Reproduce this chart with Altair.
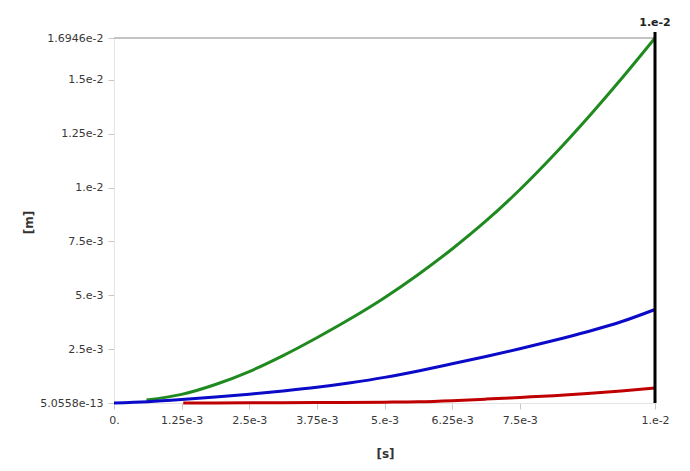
import altair as alt
import pandas as pd

# ---- data ----
t_green = [0.0006, 0.00125, 0.001875, 0.0025, 0.003125, 0.00375, 0.004375, 0.005,
           0.005625, 0.00625, 0.006875, 0.0075, 0.008125, 0.00875, 0.009375, 0.01]
v_green = [0.00014, 0.00040, 0.00086, 0.00146, 0.00220, 0.00303, 0.00392, 0.00489,
           0.00597, 0.00715, 0.00845, 0.00990, 0.01150, 0.01322, 0.01504, 0.016946]

t_blue = [0.0, 0.000625, 0.00125, 0.001875, 0.0025, 0.003125, 0.00375, 0.004375, 0.005,
          0.005625, 0.00625, 0.006875, 0.0075, 0.008125, 0.00875, 0.009375, 0.01]
v_blue = [0.0, 0.00006, 0.00016, 0.00028, 0.00041, 0.00056, 0.00073, 0.00094, 0.00119,
          0.00149, 0.00182, 0.00216, 0.00252, 0.00290, 0.00331, 0.00377, 0.00434]

t_red = [0.00128, 0.0025, 0.00375, 0.005, 0.005625, 0.00625, 0.006875, 0.0075,
         0.008125, 0.00875, 0.009375, 0.01]
v_red = [0.0, 0.00001, 0.00002, 0.00004, 0.00006, 0.00011, 0.00018, 0.00026,
         0.00034, 0.00044, 0.00056, 0.00070]

series_names = ["green", "red", "blue"]
series_colors = ["#1f8a1f", "#c00000", "#0a0ac8"]

x_tick_values = [0.0, 0.00125, 0.0025, 0.00375, 0.005, 0.00625, 0.0075, 0.01]
x_tick_labels = ["0.", "1.25e-3", "2.5e-3", "3.75e-3", "5.e-3", "6.25e-3", "7.5e-3", "1.e-2"]
y_tick_values = [5.0558e-13, 0.0025, 0.005, 0.0075, 0.01, 0.0125, 0.015, 0.016946]
y_tick_labels = ["5.0558e-13", "2.5e-3", "5.e-3", "7.5e-3", "1.e-2", "1.25e-2", "1.5e-2", "1.6946e-2"]

x_min, x_max = 0.0, 0.01
y_min, y_max = 5.0558e-13, 0.016946
marker_time = 0.01
marker_label = "1.e-2"
marker_top = 0.01723

# ---- build table ----
rows = []
for name, ts, vs in [("green", t_green, v_green), ("red", t_red, v_red), ("blue", t_blue, v_blue)]:
    for t, v in zip(ts, vs):
        rows.append({"series": name, "t": t, "v": v, "order": series_names.index(name)})
df = pd.DataFrame(rows)


def label_expr(vals, labs, tol=1e-7):
    expr = "''"
    for v, l in reversed(list(zip(vals, labs))):
        expr = f"abs(datum.value - {v!r}) < {tol} ? '{l}' : ({expr})"
    return expr


FONT = "DejaVu Sans"

x_scale = alt.Scale(domain=[x_min, x_max], nice=False, zero=False)
y_scale = alt.Scale(domain=[y_min, y_max], nice=False, zero=False)

x_axis = alt.Axis(values=x_tick_values, labelExpr=label_expr(x_tick_values, x_tick_labels),
                  title="[s]", grid=False, domainColor="#e4e4e4", tickColor="#c8c8c8",
                  tickSize=6, labelPadding=5, labelColor="#383838", labelFont=FONT,
                  labelFontSize=11, titleFont=FONT, titleFontSize=12, titleFontWeight="bold",
                  titleColor="#333333", titleX=271, titleY=50, titleBaseline="middle",
                  labelFlush=False)
y_axis = alt.Axis(values=y_tick_values, labelExpr=label_expr(y_tick_values, y_tick_labels),
                  title="[m]", grid=False, domainColor="#e4e4e4", tickColor="#c8c8c8",
                  tickSize=6, labelPadding=5, labelColor="#383838", labelFont=FONT,
                  labelFontSize=11, titleFont=FONT, titleFontSize=12, titleFontWeight="bold",
                  titleColor="#333333", titleX=-86, titleY=184, titleAngle=-90,
                  titleAlign="center", titleBaseline="middle", labelFlush=False)

base = alt.Chart(df)

lines = base.mark_line(strokeWidth=3, interpolate="monotone").encode(
    x=alt.X("t:Q", scale=x_scale, axis=x_axis),
    y=alt.Y("v:Q", scale=y_scale, axis=y_axis),
    color=alt.Color("series:N", scale=alt.Scale(domain=series_names, range=series_colors),
                    legend=None),
    detail="series:N",
    order=alt.Order("order:Q"),
)

top_df = pd.DataFrame({"x0": [x_min], "x1": [x_max], "y": [y_max]})
top_rule = alt.Chart(top_df).mark_rule(color="#c4c4c4", strokeWidth=2).encode(
    x=alt.X("x0:Q", scale=x_scale), x2="x1:Q", y=alt.Y("y:Q", scale=y_scale)
)

marker_df = pd.DataFrame({"x": [marker_time], "y0": [y_min], "y1": [marker_top], "label": [marker_label]})
marker_rule = alt.Chart(marker_df).mark_rule(color="black", strokeWidth=3).encode(
    x=alt.X("x:Q", scale=x_scale), y=alt.Y("y0:Q", scale=y_scale), y2="y1:Q"
)
marker_text = alt.Chart(marker_df).mark_text(
    font=FONT, fontSize=11, fontWeight="bold", color="#222222", baseline="bottom",
    align="center", dy=-4
).encode(x=alt.X("x:Q", scale=x_scale), y=alt.Y("y1:Q", scale=y_scale), text="label:N")

# draw order: green under, then red, then blue on top
green_l = lines.transform_filter(alt.datum.series == "green")
red_l = lines.transform_filter(alt.datum.series == "red")
blue_l = lines.transform_filter(alt.datum.series == "blue")

chart = alt.layer(top_rule, green_l, red_l, blue_l, marker_rule, marker_text).properties(
    width=541, height=365,
    autosize=alt.AutoSizeParams(type="none"),
    padding={"left": 106, "top": 30, "right": 24, "bottom": 62},
).configure_view(stroke=None).configure(background="white")

chart.save("out.html", embed_options={"renderer": "svg", "actions": False})
